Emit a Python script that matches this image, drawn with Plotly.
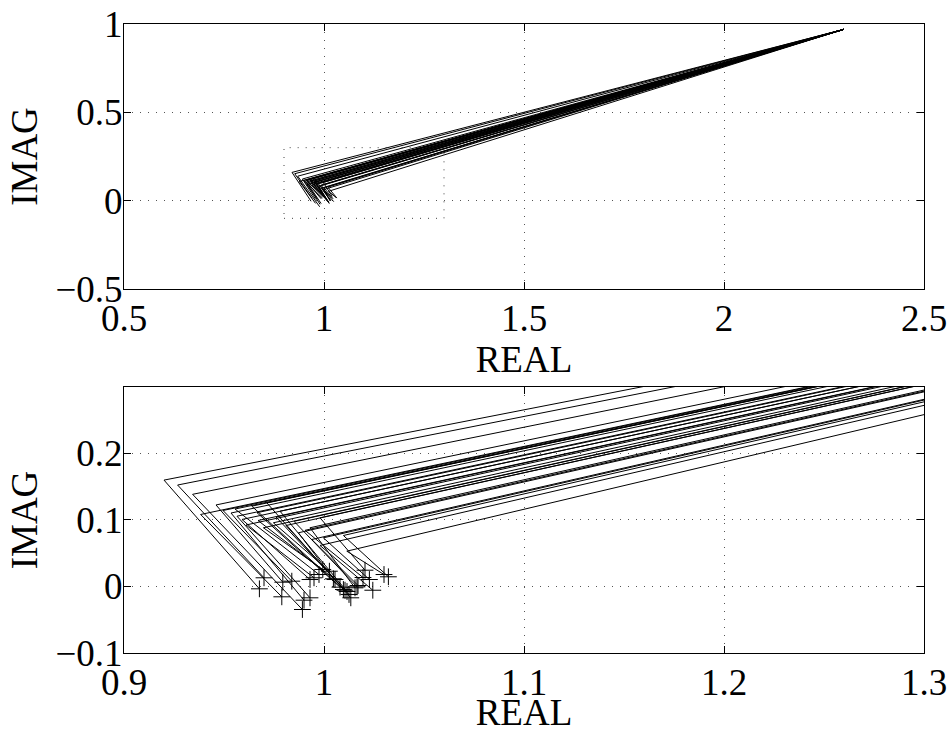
import plotly.graph_objects as go

# ---- data ----
start_x = 2.3
start_y = 0.97

vertex_x = [0.920, 0.9268, 0.9343, 0.9383, 0.946, 0.9495, 0.9535, 0.9565, 0.959, 0.961,
            0.9639, 0.9714, 0.9697, 0.9747, 0.978, 0.9872, 0.993, 0.9939, 0.998, 0.9997,
            0.998, 1.0097, 1.0114, 0.967, 0.981, 0.9555, 0.9665, 0.976, 0.985, 0.9905]
vertex_y = [0.160, 0.1526, 0.1386, 0.1083, 0.1226, 0.1143, 0.1105, 0.1057, 0.1008, 0.0925,
            0.1208, 0.1259, 0.0883, 0.0958, 0.1132, 0.0808, 0.0883, 0.0707, 0.0617, 0.0732,
            0.1033, 0.0767, 0.0531, 0.0992, 0.0917, 0.1165, 0.1110, 0.1045, 0.098, 0.0845]
end_x = [0.9677, 0.970, 0.9892, 0.9789, 0.9794, 0.9839, 0.990, 0.993, 0.993, 0.995,
         1.0097, 1.0134, 0.9994, 1.0027, 1.0115, 1.0047, 1.0155, 1.017, 1.0244, 1.0227,
         1.0205, 1.0322, 1.030, 1.0055, 1.0105, 0.9975, 1.008, 1.0125, 1.0165, 1.0195]
end_y = [-0.0035, 0.0131, -0.0346, -0.0155, 0.0065, 0.008, -0.0206, -0.017, 0.0105, 0.0131,
         -0.0045, -0.017, 0.0256, 0.023, -0.0075, 0.0116, -0.002, 0.0015, -0.0056, 0.0105,
         0.0245, 0.0146, 0.018, 0.0105, -0.0056, 0.018, -0.001, -0.012, -0.0005, 0.0135]

top_xrange = [0.5, 2.5]
top_yrange = [-0.5, 1.0]
top_xticks = [0.5, 1, 1.5, 2, 2.5]
top_yticks = [-0.5, 0, 0.5, 1]
bot_xrange = [0.9, 1.3]
bot_yrange = [-0.1, 0.3]
bot_xticks = [0.9, 1, 1.1, 1.2, 1.3]
bot_yticks = [-0.1, 0, 0.1, 0.2]

# ---- build polylines ----
xs, ys = [], []
for vx, vy, ex, ey in zip(vertex_x, vertex_y, end_x, end_y):
    xs += [start_x, vx, ex, None]
    ys += [start_y, vy, ey, None]

FONT = "Liberation Serif, Times New Roman, serif"
FS = 37

fig = go.Figure()
fig.add_trace(go.Scatter(x=xs, y=ys, mode="lines", line=dict(color="black", width=1),
                         xaxis="x", yaxis="y", showlegend=False, hoverinfo="skip"))
fig.add_trace(go.Scatter(x=xs, y=ys, mode="lines", line=dict(color="black", width=1),
                         xaxis="x2", yaxis="y2", showlegend=False, hoverinfo="skip"))
fig.add_trace(go.Scatter(x=end_x, y=end_y, mode="markers",
                         marker=dict(symbol="cross-thin", size=12, color="black",
                                     line=dict(color="black", width=1)),
                         xaxis="x2", yaxis="y2", showlegend=False, cliponaxis=True))

# zoom box on top plot
fig.add_shape(type="rect", xref="x", yref="y",
              x0=bot_xrange[0], x1=bot_xrange[1], y0=bot_yrange[0], y1=bot_yrange[1],
              line=dict(color="#444", width=1, dash="1px,7px"), layer="below")

def ax(rng, ticks, title, domain, anchor, standoff, lab_standoff=0):
    return dict(range=rng, tickvals=ticks, domain=domain, anchor=anchor,
                automargin=False,
                showline=True, linecolor="black", linewidth=1, mirror="ticks",
                ticks="inside", ticklen=7, tickcolor="black", tickwidth=1,
                showgrid=True, gridcolor="#555", gridwidth=1, griddash="1px,7px",
                zeroline=False, tickfont=dict(family=FONT, size=FS, color="black"),
                ticklabelstandoff=lab_standoff,
                title=dict(text=title, font=dict(family=FONT, size=FS, color="black"),
                           standoff=standoff))

top_dom = [0.5787, 1.0]
bot_dom = [0.0, 0.4229]

fig.update_layout(
    width=951, height=733,
    margin=dict(l=124, r=27, t=24, b=80),
    paper_bgcolor="white", plot_bgcolor="white",
    font=dict(family=FONT, size=FS, color="black"),
    xaxis=ax(top_xrange, top_xticks, "REAL", [0, 1], "y", 0, -3),
    yaxis=ax(top_yrange, top_yticks, "IMAG", top_dom, "x", 6, -7),
    xaxis2=ax(bot_xrange, bot_xticks, "REAL", [0, 1], "y2", 0, -3),
    yaxis2=ax(bot_yrange, bot_yticks, "IMAG", bot_dom, "x2", 6, -7),
)

fig.write_html("out.html")
